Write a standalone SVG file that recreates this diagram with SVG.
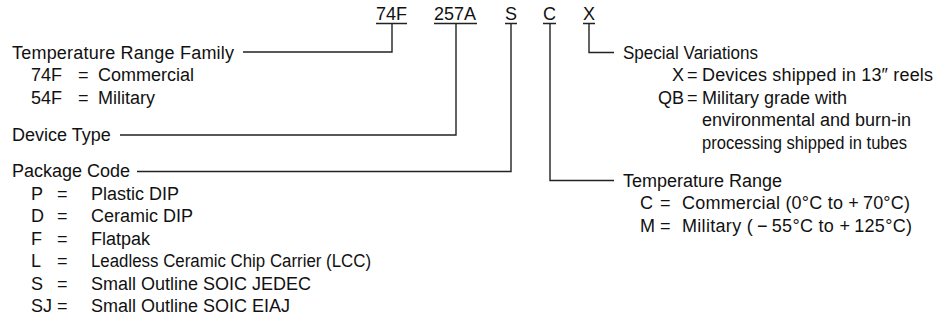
<svg xmlns="http://www.w3.org/2000/svg" width="943" height="322" viewBox="0 0 943 322">
<style>
text{font-family:"Liberation Sans",Arial,Helvetica,sans-serif;font-size:18px;fill:#111}
.ln{fill:none;stroke:#222;stroke-width:1.4}
</style>
<rect width="943" height="322" fill="#fff"/>
<g id="code">
<text x="376" y="20">74F</text>
<text x="434" y="20">257A</text>
<text x="505" y="20">S</text>
<text x="543" y="20">C</text>
<text x="583" y="20">X</text>
<path class="ln" d="M376,23.5H407M434,23.5H477M505,23.5H517M543,23.5H556M583,23.5H595"/>
</g>
<g id="family">
<text x="12" y="59" textLength="222" lengthAdjust="spacing">Temperature Range Family</text>
<text x="31" y="81">74F</text><text x="78" y="81">=</text><text x="98" y="81">Commercial</text>
<text x="31" y="103.5">54F</text><text x="78" y="103.5">=</text><text x="98" y="103.5">Military</text>
</g>
<g id="device">
<text x="12" y="141">Device Type</text>
</g>
<g id="package">
<text x="12" y="177">Package Code</text>
<text x="31" y="199.5">P</text><text x="57" y="199.5">=</text><text x="91" y="199.5">Plastic DIP</text>
<text x="31" y="222">D</text><text x="57" y="222">=</text><text x="91" y="222">Ceramic DIP</text>
<text x="31" y="244.5">F</text><text x="57" y="244.5">=</text><text x="91" y="244.5">Flatpak</text>
<text x="31" y="267">L</text><text x="57" y="267">=</text><text x="91" y="267" textLength="280" lengthAdjust="spacingAndGlyphs">Leadless Ceramic Chip Carrier (LCC)</text>
<text x="31" y="289.5">S</text><text x="57" y="289.5">=</text><text x="91" y="289.5">Small Outline SOIC JEDEC</text>
<text x="31" y="312">SJ</text><text x="57" y="312">=</text><text x="91" y="312">Small Outline SOIC EIAJ</text>
</g>
<g id="special">
<text x="623" y="59" textLength="135" lengthAdjust="spacingAndGlyphs">Special Variations</text>
<text x="672" y="81">X</text><text x="687" y="81">=</text><text x="702" y="81" textLength="231" lengthAdjust="spacing">Devices shipped in 13″ reels</text>
<text x="658" y="103.5">QB</text><text x="687" y="103.5">=</text><text x="702" y="103.5">Military grade with</text>
<text x="702" y="126">environmental and burn-in</text>
<text x="702" y="148.5" textLength="205" lengthAdjust="spacingAndGlyphs">processing shipped in tubes</text>
</g>
<g id="temprange">
<text x="623" y="186.5">Temperature Range</text>
<text x="640" y="209">C</text><text x="660" y="209">=</text><text x="682" y="209" textLength="228" lengthAdjust="spacing">Commercial (0°C to +&#8201;70°C)</text>
<text x="640" y="231.5">M</text><text x="660" y="231.5">=</text><text x="682" y="231.5" textLength="230" lengthAdjust="spacing">Military (&#8201;−&#8201;55°C to +&#8201;125°C)</text>
</g>
<g id="connectors">
<path class="ln" d="M392,23.5V52H243"/>
<path class="ln" d="M456,23.5V135H120"/>
<path class="ln" d="M511,23.5V171.5H137"/>
<path class="ln" d="M550,23.5V180.5H614"/>
<path class="ln" d="M589,23.5V52.5H614"/>
</g>
</svg>
